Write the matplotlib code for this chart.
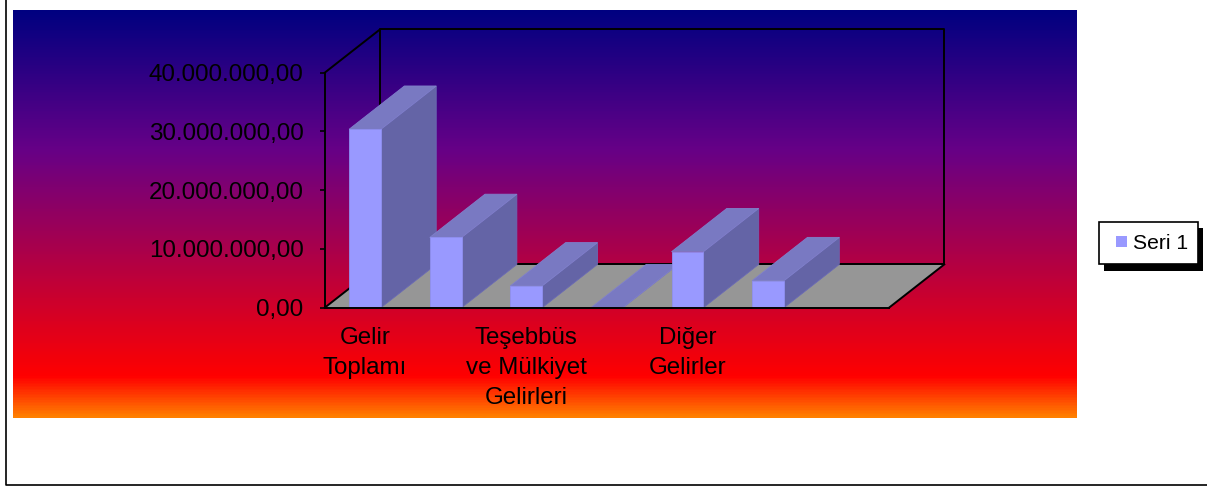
import numpy as np
import matplotlib
matplotlib.use("Agg")
import matplotlib.pyplot as plt
from matplotlib.colors import LinearSegmentedColormap
from matplotlib.patches import Rectangle, Patch
from matplotlib.lines import Line2D
from matplotlib.legend_handler import HandlerPatch

categories = ['Gelir\nToplamı', '', 'Teşebbüs\nve Mülkiyet\nGelirleri', '', 'Diğer\nGelirler', '', '']
values = [30370000, 11950000, 3710000, 0, 9530000, 4600000]
y_ticks = [0, 10000000, 20000000, 30000000, 40000000]
y_labels = ['0,00', '10.000.000,00', '20.000.000,00', '30.000.000,00', '40.000.000,00']
series_name = 'Seri 1'

W, H = 1207, 487
plt.rcParams['font.family'] = ['Liberation Sans', 'DejaVu Sans']
fig = plt.figure(figsize=(W / 100, H / 100), dpi=100, facecolor='white')


def box(x0, y0, x1, y1):
    return [x0 / W, 1 - y1 / H, (x1 - x0) / W, (y1 - y0) / H]


# outer frame
fig.add_artist(Line2D([6.2 / W, 6.2 / W, 1], [1, 1 - 485.3 / H, 1 - 485.3 / H],
                      color='black', lw=1.2, transform=fig.transFigure))

# gradient panel
bg = fig.add_axes(box(13, 10, 1077, 418))
bg.axis('off')
stops = [(0.0, '#000080'), (0.34, '#660087'), (0.90, '#FF0000'), (1.0, '#FF8000')]
cmap = LinearSegmentedColormap.from_list('sunset', stops)
bg.imshow(np.linspace(0, 1, 408)[:, None], aspect='auto', cmap=cmap, interpolation='bilinear')

# plot axes = front plane of the 3-D box
ax = fig.add_axes(box(324.7, 72.7, 889, 307.7))
ax.patch.set_alpha(0)
ax.set_xlim(0, len(categories))
ax.set_ylim(0, 40000000)
DX = 55.3 / (564.3 / len(categories))
DY = 43.3 / 235 * 40000000
n = len(categories)
top = 40000000
LINE = dict(color='black', lw=1.4, clip_on=False, solid_capstyle='projecting')

# floor and walls
ax.fill([0, n, n + DX, DX], [0, 0, DY, DY], color='#969696', zorder=1, clip_on=False, lw=0)
ax.plot([DX, n + DX, n + DX, DX, DX], [DY, DY, top + DY, top + DY, DY], zorder=1.5, **LINE)
ax.plot([0, DX], [top, top + DY], zorder=1.5, **LINE)
ax.plot([0, DX], [0, DY], zorder=1.5, **LINE)
ax.plot([n, n + DX], [0, DY], zorder=1.5, **LINE)

# bars, painted from left to right
WIDTH = 0.395
FRONT, TOP, SIDE = '#9999FF', '#7979C2', '#6464A6'
for i, v in enumerate(values):
    xc = i + 0.5
    x0, x1 = xc - WIDTH / 2, xc + WIDTH / 2
    z = 2 + i
    ax.fill([x1, x1 + DX, x1 + DX, x1], [0, DY, v + DY, v], color=SIDE, lw=0.6, ec='#6A6AB4',
            clip_on=False, zorder=z)
    ax.fill([x0, x1, x1 + DX, x0 + DX], [v, v, v + DY, v + DY], color=TOP, lw=0.6, ec='#8080CC',
            clip_on=False, zorder=z)
    if v > 0:
        ax.bar(xc, v, width=WIDTH, color=FRONT, edgecolor='#8F8FF0', linewidth=0.6,
               clip_on=False, zorder=z + 0.5, label=series_name if i == 0 else None)

# axes styling
for s in ['top', 'right']:
    ax.spines[s].set_visible(False)
for s in ['left', 'bottom']:
    ax.spines[s].set_linewidth(1.4)
    ax.spines[s].set_zorder(20)
ax.set_yticks(y_ticks)
ax.set_yticklabels(y_labels, fontsize=17.4, color='black')
ax.tick_params(axis='y', length=3.8, width=1.2, pad=11.5, color='black')
ax.set_xticks(np.arange(n) + 0.5)
ax.set_xticklabels(categories, fontsize=17.4, color='black', linespacing=1.47)
ax.tick_params(axis='x', length=0, pad=14.2)


def small_square(legend=None, orig_handle=None, xdescent=0, ydescent=0, width=0, height=0, fontsize=0):
    s = 7.6
    return Rectangle((width - s - xdescent, (height - s) / 2 - ydescent + 0.6), s, s)


# legend with hard shadow
fig.add_artist(Rectangle((1104 / W, 1 - 270.5 / H), 99 / W, 42 / H, transform=fig.transFigure,
                         fc='black', ec='none', zorder=5))
handles = [Patch(facecolor=FRONT, edgecolor='none', label=series_name)]
leg = fig.legend(handles=handles, loc='center', bbox_to_anchor=(1148.5 / W, 1 - 243 / H),
                 fontsize=15.2, frameon=True, fancybox=False, edgecolor='black', facecolor='white',
                 framealpha=1, handlelength=0.85, handleheight=1.05, handletextpad=0.28,
                 borderpad=0.48, borderaxespad=0,
                 handler_map={Patch: HandlerPatch(patch_func=small_square)})
leg.get_frame().set_linewidth(1.2)
leg.set_zorder(6)

fig.savefig('out.png', dpi=100, facecolor='white')
